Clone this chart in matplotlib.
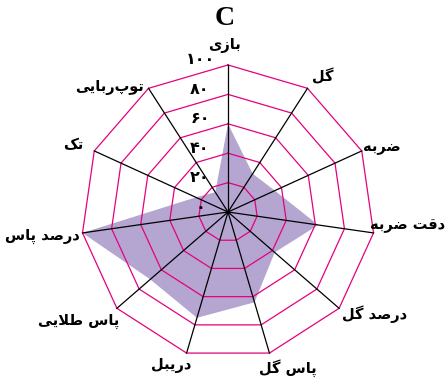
import numpy as np
import matplotlib.pyplot as plt

# radar chart "C"
categories = ['بازی', 'گل', 'ضربه', 'دقت ضربه', 'درصد گل', 'پاس گل',
              'دریبل', 'پاس طلایی', 'درصد پاس', 'تک', 'توپ\u200cربایی']
values = [60, 31, 35, 62, 42, 64, 75, 70, 100, 24, 16]
ring_values = [20, 40, 60, 80, 100]
tick_values = [0, 20, 40, 60, 80, 100]
tick_labels = ['۰', '۲۰', '۴۰', '۶۰', '۸۰', '۱۰۰']
title = 'C'

# label offsets from the outer vertex, in pixels (screen x right, y up)
label_off = [(-4, 19), (15, 12), (20, 3), (34, 7), (35, -6), (18, -15),
             (-15, -12), (-38, -13), (-40, -3), (-21, 6), (-39, 1)]

# --- tiny arabic/persian shaper (matplotlib does no shaping) ---
FORMS = {
    'ا': ('\ufe8d', '\ufe8e', None, None),
    'ب': ('\ufe8f', '\ufe90', '\ufe91', '\ufe92'),
    'ت': ('\ufe95', '\ufe96', '\ufe97', '\ufe98'),
    'د': ('\ufea9', '\ufeaa', None, None),
    'ر': ('\ufead', '\ufeae', None, None),
    'ز': ('\ufeaf', '\ufeb0', None, None),
    'س': ('\ufeb1', '\ufeb2', '\ufeb3', '\ufeb4'),
    'ص': ('\ufeb9', '\ufeba', '\ufebb', '\ufebc'),
    'ض': ('\ufebd', '\ufebe', '\ufebf', '\ufec0'),
    'ط': ('\ufec1', '\ufec2', '\ufec3', '\ufec4'),
    'ق': ('\ufed5', '\ufed6', '\ufed7', '\ufed8'),
    'ل': ('\ufedd', '\ufede', '\ufedf', '\ufee0'),
    'ه': ('\ufee9', '\ufeea', '\ufeeb', '\ufeec'),
    'و': ('\ufeed', '\ufeee', None, None),
    'پ': ('\ufb56', '\ufb57', '\ufb58', '\ufb59'),
    'ک': ('\ufb8e', '\ufb8f', '\ufb90', '\ufb91'),
    'گ': ('\ufb92', '\ufb93', '\ufb94', '\ufb95'),
    'ی': ('\ufbfc', '\ufbfd', '\ufbfe', '\ufbff'),
    '\ufefb': ('\ufefb', '\ufefc', None, None),  # lam-alef
}


def shape(s):
    s = s.replace('لا', '\ufefb')
    res = []
    for i, c in enumerate(s):
        if c == '\u200c':
            continue
        if c not in FORMS:
            res.append(c)
            continue
        prev = s[i - 1] if i > 0 else None
        nxt = s[i + 1] if i + 1 < len(s) else None
        jp = prev in FORMS and FORMS[prev][2] is not None
        jn = nxt in FORMS and FORMS[c][2] is not None
        iso, fin, ini, med = FORMS[c]
        if jp and jn:
            res.append(med)
        elif jp:
            res.append(fin)
        elif jn:
            res.append(ini)
        else:
            res.append(iso)
    return ''.join(res)[::-1]


plt.rcParams['font.family'] = ['DejaVu Sans']

n = len(categories)
ang = np.arange(n) * 2 * np.pi / n


def to_xy(r, a):
    return np.asarray(r) * np.sin(a), np.asarray(r) * np.cos(a)


fig = plt.figure(figsize=(4.45, 3.88), dpi=100)
ax = fig.add_axes([0, 0, 1, 1])
ax.set_xlim(-155.1, 147.6)
ax.set_ylim(-119.7, 144.2)
ax.axis('off')

# filled data polygon
px, py = to_xy(values, ang)
ax.fill(px, py, color='#b4a6d0', lw=0, zorder=1)

# polygon rings
ang_c = np.append(ang, ang[0])
for rv in ring_values:
    rx, ry = to_xy([rv] * (n + 1), ang_c)
    ax.plot(rx, ry, color='#e6007e', lw=0.9, zorder=2)

# spokes
for a in ang:
    sx, sy = to_xy([0, 100], a)
    ax.plot(sx, sy, color='black', lw=0.9, zorder=3)

# category labels
for a, lab, off in zip(ang, categories, label_off):
    vx, vy = to_xy(100, a)
    ax.annotate(shape(lab), xy=(vx, vy), xytext=off, textcoords='offset pixels',
                ha='center', va='center', fontsize=10.5, fontweight='bold', zorder=4)

# radial tick labels
for t, tl in zip(tick_values, tick_labels):
    ax.annotate(tl, xy=(0, t), xytext=(-28, 5), textcoords='offset pixels',
                ha='center', va='center', fontsize=11.5, fontweight='bold', zorder=4)

ax.text(0.506, 0.953, title, transform=ax.transAxes, ha='center', va='center',
        fontsize=20, fontweight='bold', family='Liberation Serif')

fig.savefig('out.png', dpi=100)
